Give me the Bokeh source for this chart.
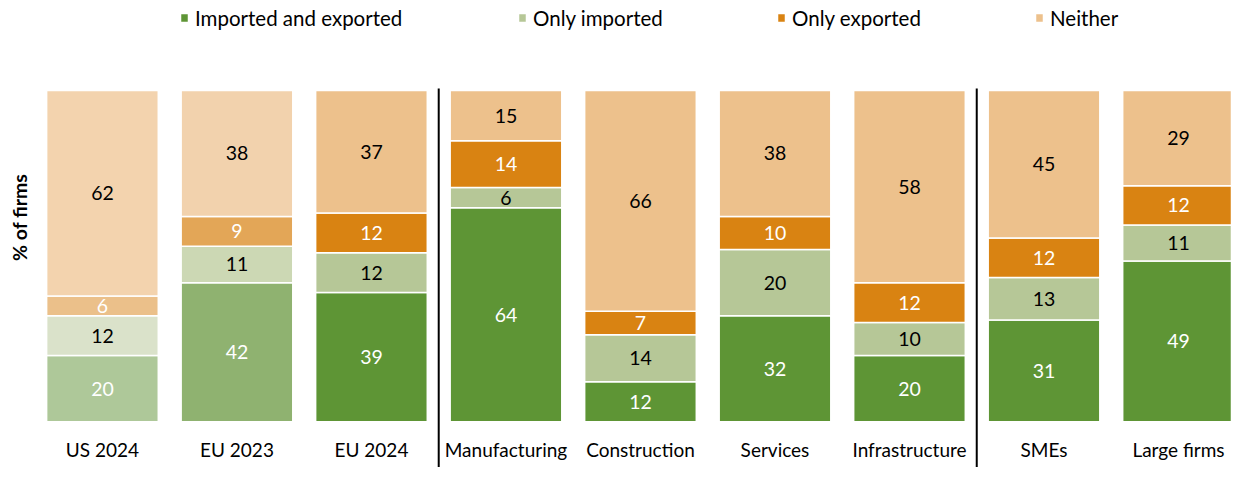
import numpy as np
from bokeh.plotting import figure
from bokeh.models import ColumnDataSource, Range1d, Legend, LegendItem
from bokeh.core.properties import value
from bokeh.embed import file_html
from bokeh.resources import INLINE

# ---- data ----
categories = ["US 2024", "EU 2023", "EU 2024", "Manufacturing", "Construction",
              "Services", "Infrastructure", "SMEs", "Large firms"]
imported_and_exported = [20, 42, 39, 64, 12, 32, 20, 31, 49]
only_imported = [12, 11, 12, 6, 14, 20, 10, 13, 11]
only_exported = [6, 9, 12, 14, 7, 10, 12, 12, 12]
neither = [62, 38, 37, 15, 66, 38, 58, 45, 29]
series_names = ["Imported and exported", "Only imported", "Only exported", "Neither"]
series_values = [imported_and_exported, only_imported, only_exported, neither]

# ---- styles ----
main_colors = ["#5E9535", "#B6C797", "#D98312", "#EDC18C"]
eu2023_colors = ["#8FB270", "#CCD8B4", "#E3A657", "#F2D2AD"]
us2024_colors = ["#AEC899", "#DAE2CA", "#EBC08A", "#F3D3AE"]
label_colors = ["white", "black", "white", "black"]
FONT = "Lato"

n = len(categories)
xs = np.arange(n)
vals = np.array(series_values, dtype=float)
totals = vals.sum(axis=0)
shares = vals / totals * 100.0
tops = np.cumsum(shares, axis=0)
bottoms = tops - shares

Y0, Y1 = -13.8, 127.17
p = figure(width=1231, height=467, output_backend="svg", toolbar_location=None,
           x_range=Range1d(-0.758, 8.394), y_range=Range1d(Y0, Y1),
           x_axis_location=None, y_axis_location=None, title_location=None,
           min_border=0, min_border_left=0, min_border_right=0,
           min_border_top=0, min_border_bottom=0)
p.grid.visible = False
p.outline_line_color = None
p.background_fill_color = "white"

renderers = []
for k in range(4):
    colors = []
    for i, c in enumerate(categories):
        if c == "US 2024":
            colors.append(us2024_colors[k])
        elif c == "EU 2023":
            colors.append(eu2023_colors[k])
        else:
            colors.append(main_colors[k])
    src = ColumnDataSource(dict(
        x=xs, bottom=bottoms[k], top=tops[k], color=colors,
        mid=(bottoms[k] + tops[k]) / 2.0,
        label=[str(int(v)) for v in series_values[k]],
    ))
    r = p.vbar(x="x", bottom="bottom", top="top", width=0.83, source=src,
               fill_color="color", line_color="white", line_width=1.5)
    renderers.append(r)
    p.text(x="x", y="mid", text="label", source=src, text_color=label_colors[k],
           text_align="center", text_baseline="middle",
           text_font=value(FONT), text_font_size="19.5px")

# category labels
p.text(x=xs, y=[-8.4] * n, text=categories, text_color="black",
       text_align="center", text_baseline="middle",
       text_font=value(FONT), text_font_size="19px")

# group separators
sep_x = [(xs[2] + xs[3]) / 2.0, (xs[6] + xs[7]) / 2.0]
p.segment(x0=sep_x, x1=sep_x, y0=[100.6, 100.6], y1=[Y0, Y0],
          line_color="black", line_width=2)

# y axis title
p.text(x=[-0.617], y=[61.7], text=["% of firms"], angle=np.pi / 2,
       text_align="center", text_baseline="middle", text_color="black",
       text_font=value(FONT), text_font_size="19.5px", text_font_style="bold")

# legends
legend_x = [179, 517, 776, 1034]
for k in range(4):
    leg = Legend(items=[LegendItem(label=series_names[k], renderers=[renderers[k]], index=2)],
                 location=(legend_x[k], 437.5), orientation="horizontal",
                 margin=0, padding=0, spacing=0, border_line_color=None,
                 background_fill_alpha=0, glyph_width=10, glyph_height=11,
                 label_standoff=6, label_text_font=FONT, label_text_font_size="20.5px",
                 label_text_color="black")
    p.add_layout(leg, "center")

open("out.html", "w").write(file_html(p, INLINE))
